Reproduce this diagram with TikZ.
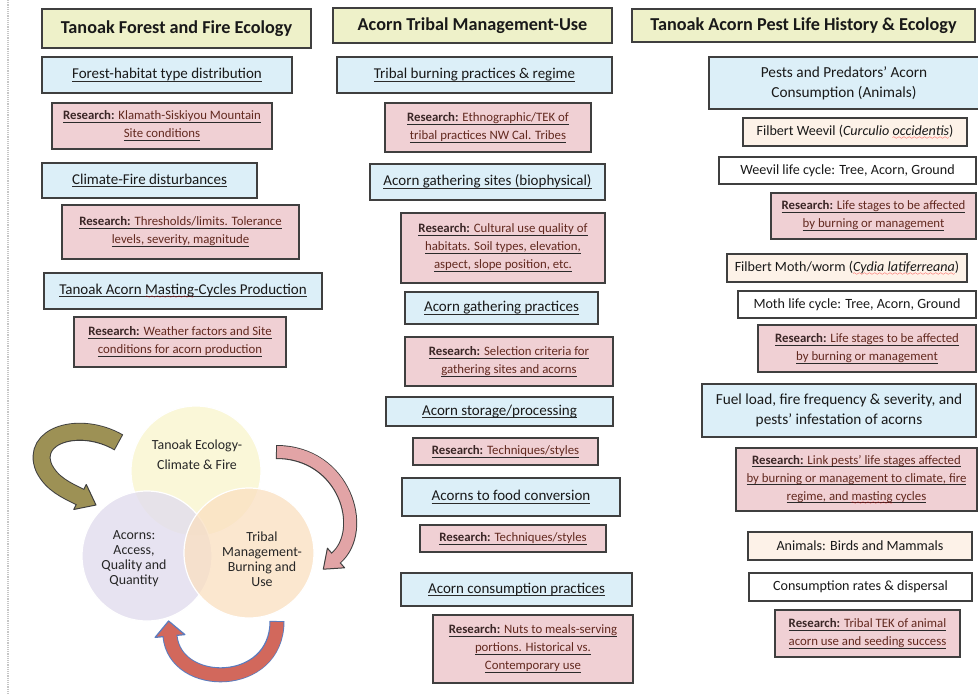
\documentclass[tikz,border=0pt]{standalone}
\usepackage{fontspec}
\setmainfont{Carlito}
\usepackage{tikz}

\definecolor{hdfill}{HTML}{EEF1C9}
\definecolor{bluefill}{HTML}{DCEFF8}
\definecolor{pinkfill}{HTML}{F0D0D4}
\definecolor{peachfill}{HTML}{FDF2E8}
\definecolor{boxline}{HTML}{3F3F3F}
\definecolor{rsword}{HTML}{3A2626}
\definecolor{rstext}{HTML}{62291F}
\definecolor{ulcol}{HTML}{2A2A2A}
\definecolor{ecofill}{HTML}{FAF6D2}
\definecolor{acornfill}{HTML}{E2DDEE}
\definecolor{tribefill}{HTML}{FADFC0}
\definecolor{olivearr}{HTML}{9D9155}
\definecolor{pinkarr}{HTML}{E2A4A6}
\definecolor{redarr}{HTML}{D2685C}
\definecolor{bluearr}{HTML}{5A7CBF}

\font\wavefont=lasy6
\newsavebox{\ulbox}
\newcommand{\rsh}{\textbf{\textcolor{rsword}{Research:}}}
\newcommand{\undl}[1]{\sbox{\ulbox}{#1}\rlap{\textcolor{ulcol}{\rule[-3pt]{\wd\ulbox}{0.8pt}}}\usebox{\ulbox}}
\newcommand{\spellwave}[1]{\sbox{\ulbox}{#1}%
  \rlap{\lower4pt\hbox to \wd\ulbox{\color{red}\xleaders\hbox{\wavefont\char58}\hfill}}\usebox{\ulbox}}
\newcommand{\undlwave}[1]{\sbox{\ulbox}{#1}\rlap{\textcolor{ulcol}{\rule[-3pt]{\wd\ulbox}{0.8pt}}}%
  \rlap{\lower4pt\hbox to \wd\ulbox{\color{red}\xleaders\hbox{\wavefont\char58}\hfill}}\usebox{\ulbox}}

\tikzset{
  box/.style={draw=boxline, line width=1.2pt, inner sep=0pt, align=center, text=black!90},
  header/.style={box, fill=hdfill, line width=1.6pt, font=\fontsize{18.2}{21}\selectfont\bfseries},
  topic/.style={box, fill=bluefill, font=\fontsize{15}{18}\selectfont},
  research/.style={box, fill=pinkfill, text=rstext, font=\fontsize{12.8}{18}\selectfont},
  pest/.style={box, fill=bluefill, font=\fontsize{15.3}{20}\selectfont},
  pestitem/.style={box, fill=peachfill, font=\fontsize{14.1}{16}\selectfont},
  lifeitem/.style={box, fill=white, font=\fontsize{14.1}{16}\selectfont},
  venntext/.style={align=center, text=black!85, font=\fontsize{13.9}{15}\selectfont}
}

\begin{document}
\begin{tikzpicture}[x=1pt, y=-1pt]

    \useasboundingbox (0,0) rectangle (978,694);
    \clip (0,0) rectangle (978,694);
    \fill[white] (0,0) rectangle (978,694);
    \draw[gray!45, densely dotted, line width=1.2pt] (8,0) -- (8,694);

    % forest and fire column
    \node[header, minimum width=269, minimum height=39] (forestHd) at (176.5,28.5) {Tanoak Forest and Fire Ecology};
    \node[topic, minimum width=250, minimum height=36] (habitat) at (167,75) {\undl{Forest-habitat type distribution}};
    \node[research, minimum width=220, minimum height=46] (habitatRs) at (162,126)
      {\undl{\rsh{} Klamath-Siskiyou Mountain}\\\undl{Site conditions}};
    \node[topic, minimum width=215, minimum height=35] (fire) at (149.5,180.5) {\undl{Climate-Fire disturbances}};
    \node[research, minimum width=237, minimum height=54] (fireRs) at (180.5,232)
      {\undl{\rsh{} Thresholds/limits. Tolerance}\\\undl{levels, severity, magnitude}};
    \node[topic, minimum width=278, minimum height=36] (masting) at (183,291)
      {\undl{Tanoak Acorn }\undlwave{Masting}\undl{-Cycles Production}};
    \node[research, minimum width=212, minimum height=50] (mastingRs) at (180,342)
      {\undl{\rsh{} Weather factors and Site}\\\undl{conditions for acorn production}};

    % tribal management column
    \node[header, minimum width=279, minimum height=35] (tribalHd) at (472.5,25.5) {Acorn Tribal Management-Use};
    \node[topic, minimum width=275, minimum height=36] (burning) at (474.5,75) {\undl{Tribal burning practices \& regime}};
    \node[research, minimum width=206, minimum height=49] (burningRs) at (488,127.5)
      {\undl{\rsh{} Ethnographic/TEK of}\\\undl{tribal practices NW Cal. Tribes}};
    \node[topic, minimum width=235, minimum height=36] (sites) at (487.5,182) {\undl{Acorn gathering sites (biophysical)}};
    \node[research, minimum width=204, minimum height=70] (sitesRs) at (503,248)
      {\undl{\rsh{} Cultural use quality of}\\\undl{habitats. Soil types, elevation,}\\\undl{aspect, slope position, etc.}};
    \node[topic, minimum width=193, minimum height=32] (gathering) at (501.5,308) {\undl{Acorn gathering practices}};
    \node[research, minimum width=208, minimum height=49] (gatheringRs) at (509,361.5)
      {\undl{\rsh{} Selection criteria for}\\\undl{gathering sites and acorns}};
    \node[topic, minimum width=227, minimum height=29] (storage) at (499.5,411.5) {\undl{Acorn storage/processing}};
    \node[research, minimum width=185, minimum height=27] (storageRs) at (505.5,451.5) {\undl{\rsh{} Techniques/styles}};
    \node[topic, minimum width=218, minimum height=38] (food) at (511,497) {\undl{Acorns to food conversion}};
    \node[research, minimum width=186, minimum height=27] (foodRs) at (513,538.5) {\undl{\rsh{} Techniques/styles}};
    \node[topic, minimum width=231, minimum height=33] (eating) at (516.5,589.5) {\undl{Acorn consumption practices}};
    \node[research, minimum width=200, minimum height=68] (eatingRs) at (533,649)
      {\undl{\rsh{} Nuts to meals-serving}\\\undl{portions. Historical vs.}\\\undl{Contemporary use}};

    % pest column
    \node[header, minimum width=343, minimum height=33] (pestHd) at (803.5,25.5) {Tanoak Acorn Pest Life History \& Ecology};
    \node[pest, minimum width=270, minimum height=52] (predators) at (844,83) {Pests and Predators' Acorn\\Consumption (Animals)};
    \node[pestitem, minimum width=224, minimum height=28] (weevil) at (855,132)
      {Filbert Weevil (\textit{Curculio \spellwave{occidentis}})};
    \node[lifeitem, minimum width=257, minimum height=27] (weevilCycle) at (847.5,170.5) {Weevil life cycle: Tree, Acorn, Ground};
    \node[research, minimum width=205, minimum height=46] (weevilRs) at (873.5,216)
      {\undl{\rsh{} Life stages to be affected}\\\undl{by burning or management}};
    \node[pestitem, minimum width=240, minimum height=28] (moth) at (847,268)
      {Filbert Moth/worm (\spellwave{\textit{Cydia latiferreana}})};
    \node[lifeitem, minimum width=238, minimum height=27] (mothCycle) at (857,304.5) {Moth life cycle: Tree, Acorn, Ground};
    \node[research, minimum width=218, minimum height=47] (mothRs) at (867,348.5)
      {\undl{\rsh{} Life stages to be affected}\\\undl{by burning or management}};
    \node[pest, minimum width=274, minimum height=53] (fuel) at (839,410.5)
      {Fuel load, fire frequency \& severity, and\\pests' infestation of acorns};
    \node[research, minimum width=241, minimum height=63] (fuelRs) at (856.5,479.5)
      {\undl{\rsh{} Link pests' life stages affected}\\\undl{by burning or management to climate, fire}\\\undl{regime, and }\undlwave{masting}\undl{ cycles}};
    \node[pestitem, minimum width=224, minimum height=28] (animals) at (860,546) {Animals: Birds and Mammals};
    \node[lifeitem, minimum width=223, minimum height=28] (dispersal) at (860.5,587) {Consumption rates \& dispersal};
    \node[research, minimum width=185, minimum height=47] (animalsRs) at (867.5,633.5)
      {\undl{\rsh{} Tribal TEK of animal}\\\undl{acorn use and seeding success}};

    % venn of the three themes
    \filldraw[fill=ecofill, draw=white, line width=1.2pt, fill opacity=.85] (196,471) circle (65);
    \filldraw[fill=acornfill, draw=white, line width=1.2pt, fill opacity=.8] (147,556) circle (65);
    \filldraw[fill=tribefill, draw=white, line width=1.2pt, fill opacity=.75] (249,553) circle (65);

    \node[venntext, font=\fontsize{13.9}{20}\selectfont] (ecoTxt) at (197,455) {Tanoak Ecology-\\Climate \& Fire};
    \node[venntext] (acornTxt) at (134,559) {Acorns:\\Access,\\Quality and\\Quantity};
    \node[venntext] (tribeTxt) at (262,559) {Tribal\\Management-\\Burning and\\Use};

    % curved arrows round the venn
    \draw[boxline, line width=18, shorten <=-1pt] (118,442) .. controls (80,420) and (30,435) .. (44,468)
      .. controls (52,484) and (66,490) .. (80,497);
    \filldraw[fill=olivearr, draw=boxline, line width=1pt, line join=round] (73.7,509.5) -- (96,505) -- (86.3,484.5) -- cycle;
    \draw[olivearr, line width=16] (118,442) .. controls (80,420) and (30,435) .. (44,468)
      .. controls (52,484) and (66,490) .. (80,497) -- (82.7,498.3);

    \draw[boxline, line width=14, shorten <=-1pt] (277,452) .. controls (345,452) and (368,530) .. (336,558);
    \filldraw[fill=pinkarr, draw=boxline, line width=1pt, line join=round] (327.4,548.2) -- (323.3,569.2) -- (344.6,567.8) -- cycle;
    \draw[pinkarr, line width=12] (277,452) .. controls (345,452) and (368,530) .. (336,558) -- (333.8,560);

    \draw[bluearr, line width=15, shorten <=-1pt] (277,622) .. controls (277,690) and (175,690) .. (170,636);
    \filldraw[fill=redarr, draw=bluearr, line width=1.2pt, line join=round] (155.1,637.4) -- (168.6,621) -- (184.9,634.6) -- cycle;
    \draw[redarr, line width=13] (277,622) .. controls (277,690) and (175,690) .. (170,636) -- (169.7,633);

\end{tikzpicture}
\end{document}
